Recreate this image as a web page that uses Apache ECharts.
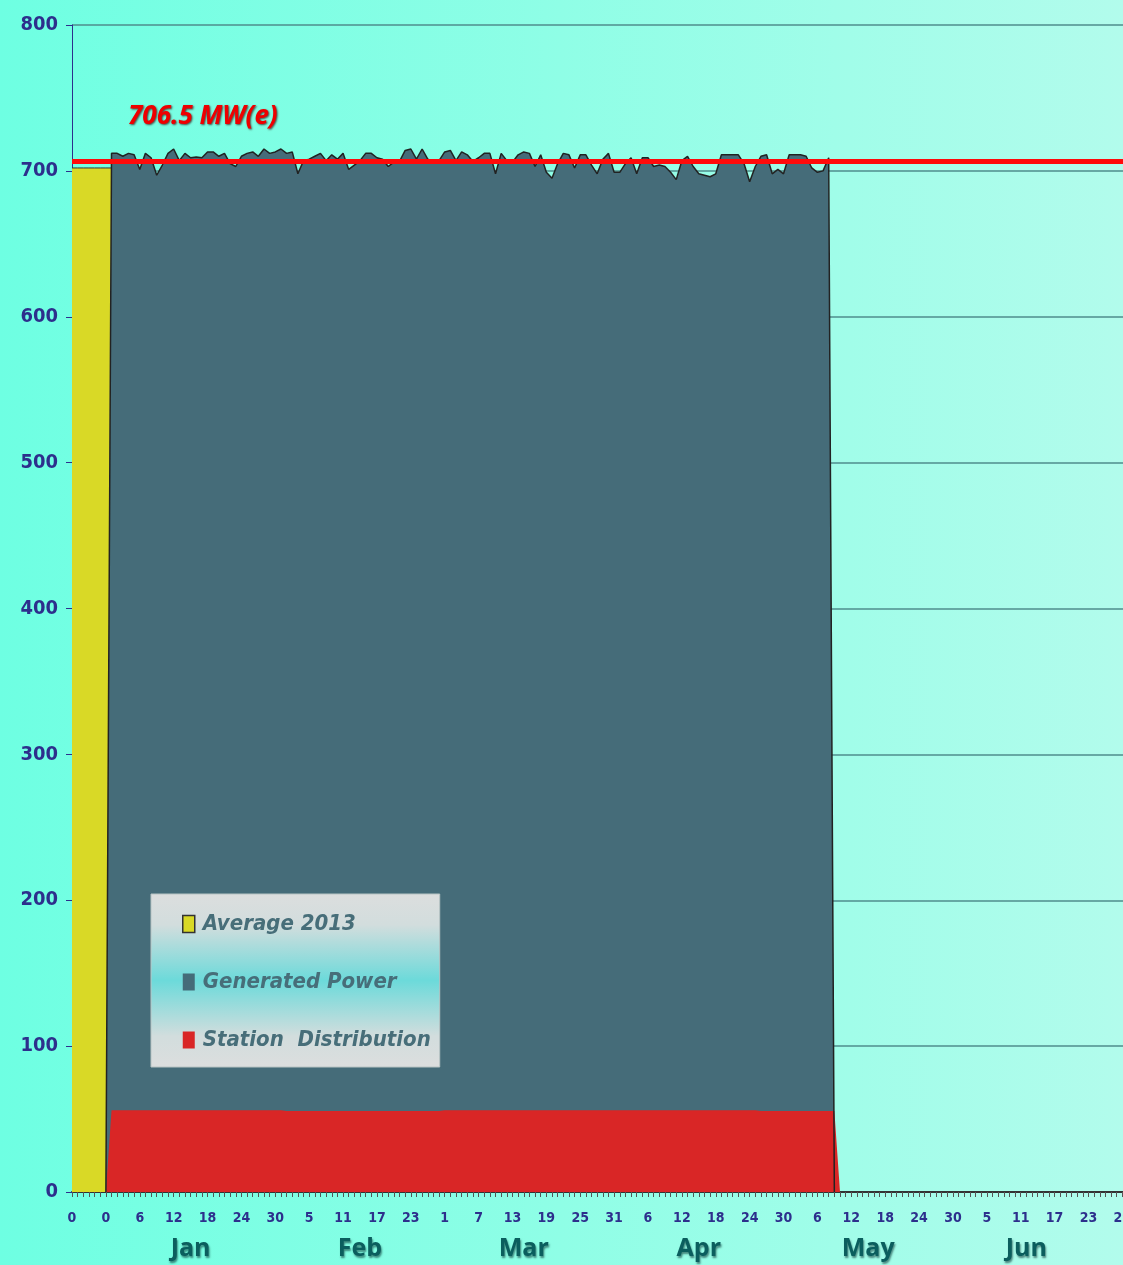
<!DOCTYPE html>
<html>
<head>
<meta charset="utf-8">
<script src="https://cdn.jsdelivr.net/npm/echarts@6/dist/echarts.min.js"></script>
<style>
  html, body { margin: 0; padding: 0; overflow: hidden; width: 1123px; height: 1265px; }
  body { background: linear-gradient(to right, #6effe2 0%, #8ffee6 50%, #b2fcec 100%); }
  #chart { width: 1150px; height: 1265px; }
</style>
</head>
<body>
<div id="chart"></div>
<script>
// ---------- data ----------
const avgSlots = ['Avg-1', 'Avg-2', 'Avg-3', 'Avg-4', 'Avg-5', 'Avg-6'];
const months = ['Jan', 'Feb', 'Mar', 'Apr', 'May', 'Jun'];
const monthLengths = [31, 28, 31, 30, 31, 30];
const tickLabels = ['0','0','6','12','18','24','30','5','11','17','23','1','7','13','19','25','31',
                    '6','12','18','24','30','6','12','18','24','30','5','11','17','23','29'];
const monthLabelIndex = [21, 51, 80, 111, 141, 169];

// Average 2013 (MW)
const average2013 = [702, 702, 702, 702, 702, 702, 702, 702];

// Generated power, daily from Jan 1 to May 8 (MW)
const generatedPower = [
  712, 712, 710, 712, 711, 701, 712, 709, 697, 704, 712, 715, 707, 712, 709, 709.5,
  709, 713, 713, 710, 712, 705, 703, 710, 712, 713, 710, 715, 712, 713, 715,
  712, 713, 698, 707, 708, 710, 712, 707, 711, 708, 712, 701, 704, 707, 712,
  712, 709, 708, 703, 706, 706.5, 714, 715, 708, 715, 708, 706.5, 707,
  713, 714, 707, 713, 711, 706.5, 709, 712, 712, 698, 712, 707, 706, 711, 713,
  712, 703, 711, 699, 695, 705, 712, 711, 702, 711, 711, 704, 698, 708, 712, 699,
  699, 705, 709, 698, 709, 709, 703, 704, 703, 699, 694, 707, 710, 703, 698, 697,
  696, 698, 711, 711, 711, 711, 705, 692.5, 703, 710, 711, 698, 701, 698, 711,
  711, 711, 710, 702, 699, 700, 709
];

// Station distribution, daily from Jan 1 to May 9 (MW)
const stationDistribution = [
  56, 56, 56, 56, 56, 56, 56, 56, 56, 56, 56, 56, 56, 56, 56, 56,
  56, 56, 56, 56, 56, 56, 56, 56, 56, 56, 56, 56, 56, 56, 56,
  55.5, 55.5, 55.5, 55.5, 55.5, 55.5, 55.5, 55.5, 55.5, 55.5, 55.5, 55.5, 55.5, 55.5,
  55.5, 55.5, 55.5, 55.5, 55.5, 55.5, 55.5, 55.5, 55.5, 55.5, 55.5, 55.5, 55.5, 55.5,
  56, 56, 56, 56, 56, 56, 56, 56, 56, 56, 56, 56, 56, 56, 56, 56,
  56, 56, 56, 56, 56, 56, 56, 56, 56, 56, 56, 56, 56, 56, 56,
  56, 56, 56, 56, 56, 56, 56, 56, 56, 56, 56, 56, 56, 56, 56,
  56, 56, 56, 56, 56, 56, 56, 56, 56, 56, 55.5, 55.5, 55.5, 55.5, 55.5,
  55.5, 55.5, 55.5, 55.5, 55.5, 55.5, 55.5, 55.5, 55.5
];
const referenceLevel = 706.5;
const referenceText = '706.5 MW(e)';

// ---------- categories (one per day) ----------
const dates = [];
months.forEach((m, mi) => { for (let d = 1; d <= monthLengths[mi]; d++) dates.push(m + ' ' + d); });
const categories = avgSlots.concat(['Dec 31'], dates);   // index 6 = "Jan 0"

const avgData = average2013.map((v, k) => [categories[k], v]);
const genData = [[categories[6], 0]].concat(
  generatedPower.map((v, k) => [dates[k], v]),
  [[dates[generatedPower.length], 0]]);
const stationData = [[categories[6], 0]].concat(
  stationDistribution.map((v, k) => [dates[k], v]),
  [[dates[stationDistribution.length], 0]]);

// ---------- chart ----------
const chart = echarts.init(document.getElementById('chart'));
const narrow = '"Liberation Sans Narrow", "DejaVu Sans Condensed", "Arial Narrow", sans-serif';

chart.setOption({
  backgroundColor: 'transparent',
  animation: false,
  grid: { left: 72, top: 25, width: 1056, height: 1167 },
  legend: {
    orient: 'vertical',
    left: 151, top: 894,
    padding: [16, 9, 13, 31],
    itemGap: 30,
    itemWidth: 12, itemHeight: 17,
    icon: 'rect',
    selectedMode: false,
    backgroundColor: {
      type: 'linear', x: 0, y: 0, x2: 0, y2: 1,
      colorStops: [
        { offset: 0, color: '#dcdede' },
        { offset: 0.18, color: '#d2dddd' },
        { offset: 0.5, color: '#6cdada' },
        { offset: 0.82, color: '#d2dddd' },
        { offset: 1, color: '#dcdede' }
      ]
    },
    borderColor: '#b8c4c4', borderWidth: 1,
    textStyle: {
      fontFamily: narrow, fontSize: 22, lineHeight: 28, fontStyle: 'italic', fontWeight: 'bold',
      color: '#476e79', padding: [0, 0, 0, 3]
    },
    data: [
      { name: 'Average 2013', itemStyle: { color: '#d9d926', borderColor: '#333', borderWidth: 1.5 } },
      { name: 'Generated Power', itemStyle: { color: '#456c79' } },
      { name: 'Station  Distribution', itemStyle: { color: '#d92626' } }
    ]
  },
  xAxis: [
    {
      type: 'category', data: categories, boundaryGap: false,
      axisLine: { lineStyle: { color: '#333', width: 2 } },
      axisTick: { show: true, interval: 0, length: 5, lineStyle: { color: '#555', width: 1 } },
      axisLabel: {
        interval: 5, margin: 19,
        fontFamily: narrow, fontSize: 14, fontWeight: 'bold', color: '#2d2f8c',
        formatter: (v, i) => tickLabels[i / 6] !== undefined ? tickLabels[i / 6] : ''
      },
      splitLine: { show: false }
    },
    {
      type: 'category', data: categories, boundaryGap: false, position: 'bottom', offset: 36,
      axisLine: { show: false }, axisTick: { show: false },
      axisLabel: {
        interval: (i) => monthLabelIndex.indexOf(i) >= 0, margin: 8,
        fontFamily: '"Open Sans", "Lato", sans-serif', fontSize: 25, fontWeight: 'bold', color: '#0b5e5e',
        textShadowColor: 'rgba(0,40,40,0.55)', textShadowBlur: 2, textShadowOffsetX: 1, textShadowOffsetY: 2,
        formatter: (v, i) => { const k = monthLabelIndex.indexOf(i); return k >= 0 ? months[k] : ''; }
      }
    }
  ],
  yAxis: {
    type: 'value', min: 0, max: 800, interval: 100,
    axisLine: { show: true, lineStyle: { color: '#2d2f8c', width: 1 } },
    axisTick: { show: true, length: 6, lineStyle: { color: '#2d2f8c' } },
    axisLabel: { margin: 14, fontFamily: narrow, fontSize: 20, fontWeight: 'bold', color: '#2d2f8c' },
    splitLine: { lineStyle: { color: '#4f8c8c', width: 1.5 } }
  },
  series: [
    {
      name: 'Average 2013', type: 'line', data: avgData, showSymbol: false,
      itemStyle: { color: '#d9d926' },
      lineStyle: { color: '#333', width: 1 },
      areaStyle: { color: '#d9d926', opacity: 1 }
    },
    {
      name: 'Generated Power', type: 'line', data: genData, showSymbol: false,
      itemStyle: { color: '#456c79' },
      lineStyle: { color: '#222', width: 1.5 },
      areaStyle: { color: '#456c79', opacity: 1 },
      markLine: {
        silent: true, symbol: 'none',
        lineStyle: { color: '#ff0a0a', width: 5, type: 'solid' },
        label: { show: false },
        data: [{ yAxis: referenceLevel }]
      }
    },
    {
      name: 'Station  Distribution', type: 'line', data: stationData, showSymbol: false,
      itemStyle: { color: '#d92626' },
      lineStyle: { width: 0 },
      areaStyle: { color: '#d92626', opacity: 1 }
    }
  ]
});

const refY = chart.convertToPixel({ yAxisIndex: 0 }, referenceLevel);
const refX = chart.convertToPixel({ xAxisIndex: 0 }, categories[0]);
chart.setOption({
  graphic: [{
    type: 'text', left: refX + 56, top: refY - 58,
    style: {
      text: referenceText, fill: '#ee0000',
      font: 'italic bold 26px "Open Sans", "Lato", sans-serif',
      textShadowColor: 'rgba(60,0,0,0.7)', textShadowBlur: 2, textShadowOffsetX: 1, textShadowOffsetY: 1
    }
  }]
});
</script>
</body>
</html>
